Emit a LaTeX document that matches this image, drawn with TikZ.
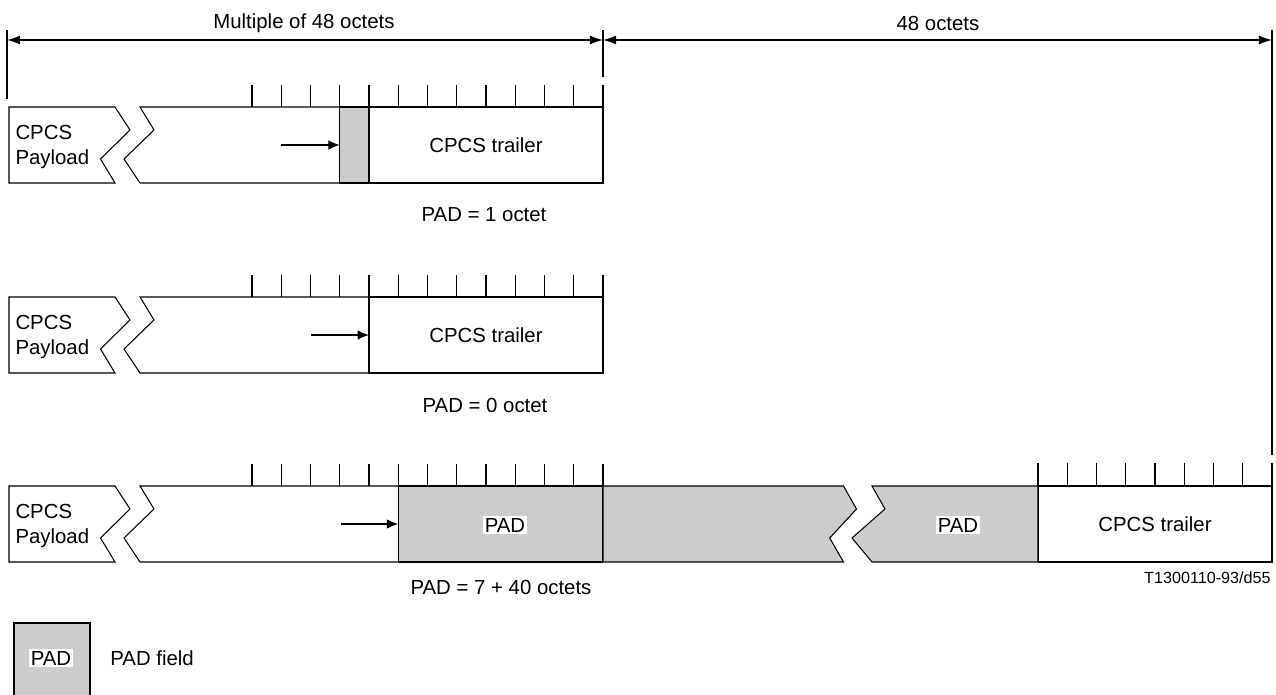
\documentclass[tikz,border=0pt]{standalone}
\usepackage{fontspec}
\setmainfont{Liberation Sans}
\usepackage{tikz}
\usetikzlibrary{arrows.meta}
\definecolor{padgray}{RGB}{204,204,204}

\begin{document}
\begin{tikzpicture}[x=0.02cm, y=-0.02cm, line width=0.6pt,
    font=\fontsize{11.6}{13.8}\selectfont]
    \tikzset{field/.style = {draw, inner sep=0pt, outer sep=0pt, minimum height=1.52cm}}
    \tikzset{padfield/.style = {field, fill=padgray}}
    \tikzset{padlabel/.style = {fill=white, inner sep=1pt}}
    \tikzset{dim/.style = {{Latex[length=7.5pt,width=5.2pt]}-{Latex[length=7.5pt,width=5.2pt]}, line width=0.8pt}}
    \tikzset{ptr/.style = {-{Latex[length=6.5pt,width=5.4pt]}}}
    \useasboundingbox (0,0) rectangle (1276,695);

    % dimension lines
    \coordinate (dimL) at (7,40);
    \coordinate (dimM) at (603,40);
    \coordinate (dimR) at (1272,40);
    \draw (7,30) -- (7,99);
    \draw (603,30) -- (603,77);
    \draw (1272,30) -- (1272,455);
    \draw[dim] (dimL) -- (dimM);
    \draw[dim] (dimM) -- (dimR);
    \node (multi) at (304,23) {Multiple of 48 octets};
    \node (fortyeight) at (938,23) {48 octets};

    % payload and ticks, all three rows
    \foreach \T in {107,297,486} {
        \filldraw[fill=white] (9,\T) -- (115,\T) -- (130,\T+23) -- (100.5,\T+52)
            -- (115,\T+76) -- (9,\T+76) -- cycle;
        \node[anchor=west, align=left, inner sep=0pt] (pl\T) at (15,\T+40) {CPCS\\Payload};
        \foreach \k in {0,...,12}
            \draw (252+\k*29.25,\T-22) -- (252+\k*29.25,\T);
    }

    % row 1: PAD = 1 octet
    \draw (339.75,107) -- (140,107) -- (154,130) -- (124,159) -- (140,183) -- (339.75,183);
    \node[padfield, minimum width=0.585cm] (pad1) at (354.4,145) {};
    \node[field, minimum width=4.68cm] (trl1) at (486,145) {CPCS trailer};
    \coordinate (a1) at (281,145);
    \draw[ptr] (a1) -- (pad1.west);
    \node (lab1) at (484,215) {PAD = 1 octet};

    % row 2: PAD = 0 octet
    \draw (369,297) -- (140,297) -- (154,320) -- (124,349) -- (140,373) -- (369,373);
    \node[field, minimum width=4.68cm] (trl2) at (486,335) {CPCS trailer};
    \coordinate (a2) at (311,335);
    \draw[ptr] (a2) -- (trl2.west);
    \node (lab2) at (485,405) {PAD = 0 octet};

    % row 3: PAD = 7 + 40 octets
    \draw (398.25,486) -- (140,486) -- (154,509) -- (124,538) -- (140,562) -- (398.25,562);
    \node[padfield, minimum width=4.095cm] (pad3) at (500.6,524) {};
    \node[padlabel] (padtxt3) at (505,525) {PAD};
    \filldraw[fill=padgray] (603,486) -- (843.5,486) -- (856.5,509) -- (829.7,538)
        -- (843.5,562) -- (603,562) -- cycle;
    \filldraw[fill=padgray] (1038,486) -- (872,486) -- (885,509) -- (852,538)
        -- (872,562) -- (1038,562) -- cycle;
    \node[padlabel] (padtxt4) at (958,525) {PAD};
    \node[field, minimum width=4.68cm] (trl3) at (1155,524) {CPCS trailer};
    \foreach \k in {0,...,8}
        \draw (1038+\k*29.25,463) -- (1038+\k*29.25,486);
    \coordinate (a3) at (341,524);
    \draw[ptr] (a3) -- (pad3.west);
    \node (lab3) at (501,587) {PAD = 7 + 40 octets};
    \node[anchor=east, font=\fontsize{9.2}{11}\selectfont] (ref) at (1277,578) {T1300110-93/d55};

    % legend
    \filldraw[fill=padgray] (14,623) rectangle (90,700);
    \node[padlabel] (legpad) at (51,658) {PAD};
    \node[anchor=west] (legtxt) at (104,658) {PAD field};
\end{tikzpicture}
\end{document}
